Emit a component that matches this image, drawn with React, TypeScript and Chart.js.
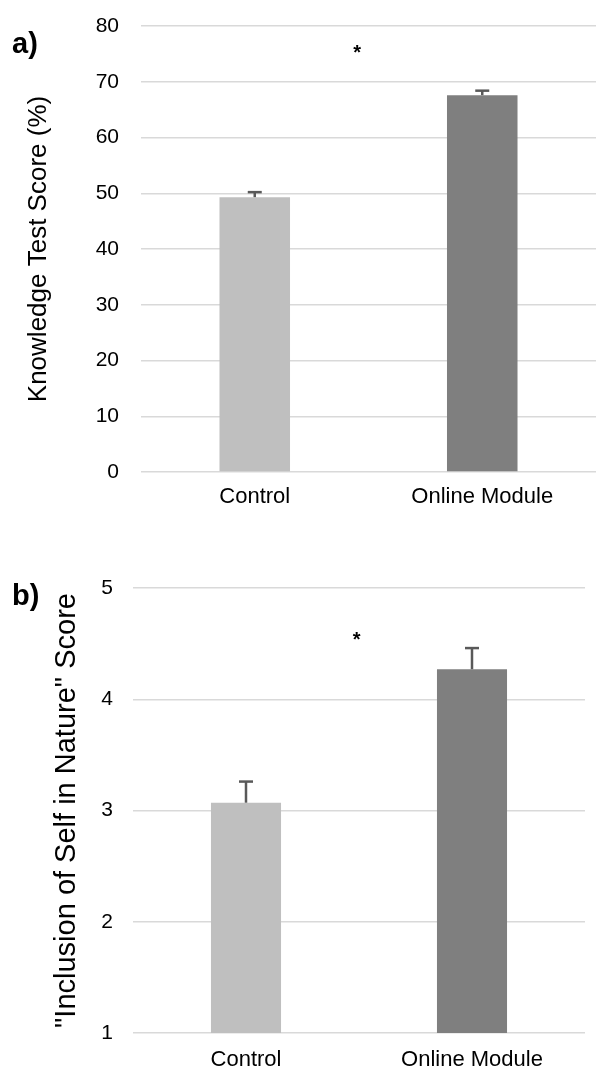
import React, { useEffect, useRef } from "react";
import { Chart, registerables } from "chart.js";

Chart.register(...registerables);

const categories = ["Control", "Online Module"];
const knowledgeScores = [49.3, 67.6];
const knowledgeErrors = [0.9, 0.8];
const natureScores = [3.07, 4.27];
const natureErrors = [0.19, 0.19];
const barColors = ["#bfbfbf", "#7f7f7f"];
const knowledgeAxis = { min: 0, max: 80, step: 10 };
const natureAxis = { min: 1, max: 5, step: 1 };
const knowledgeStar = { x: 0.45, y: 75.7 };
const natureStar = { x: 0.49, y: 4.56 };

const FONT = "'Liberation Sans', Arial, sans-serif";

const errorBarPlugin = {
  id: "errorBars",
  afterDatasetsDraw(chart: any) {
    const opts = chart.options.plugins.errorBars;
    if (!opts) return;
    const { ctx } = chart;
    const meta = chart.getDatasetMeta(0);
    const ys = chart.scales.y;
    ctx.save();
    ctx.strokeStyle = "#595959";
    opts.values.forEach((v: number, i: number) => {
      const x = meta.data[i].x;
      const yb = ys.getPixelForValue(v);
      const yt = ys.getPixelForValue(v + opts.errors[i]);
      ctx.lineWidth = 2.5;
      ctx.beginPath();
      ctx.moveTo(x, yb);
      ctx.lineTo(x, yt);
      ctx.stroke();
      ctx.beginPath();
      ctx.moveTo(x - 7, yt);
      ctx.lineTo(x + 7, yt);
      ctx.stroke();
    });
    const star = opts.star;
    ctx.fillStyle = "#000";
    ctx.font = `bold 20px ${FONT}`;
    ctx.textAlign = "center";
    ctx.textBaseline = "middle";
    ctx.fillText("*", chart.scales.x.getPixelForValue(star.x), ys.getPixelForValue(star.y) + 4);
    ctx.restore();
  },
};

function BarChart(props: any) {
  const ref = useRef<HTMLCanvasElement>(null);
  const { width, height, values, errors, axis, title, star, yWidth, xHeight, padding, tickPad, titlePad, xPad, titleSize } = props;
  useEffect(() => {
    const chart = new Chart(ref.current as HTMLCanvasElement, {
      type: "bar",
      data: {
        labels: categories,
        datasets: [
          {
            data: values,
            backgroundColor: barColors,
            barPercentage: 1,
            categoryPercentage: 0.31,
          },
        ],
      },
      options: {
        responsive: false,
        animation: false,
        devicePixelRatio: 1,
        layout: { padding },
        plugins: {
          legend: { display: false },
          tooltip: { enabled: false },
          errorBars: { values, errors, star },
        } as any,
        scales: {
          x: {
            grid: { display: false, drawTicks: false },
            border: { display: false },
            ticks: { color: "#000", font: { family: FONT, size: 22 }, padding: xPad },
            afterFit: (s: any) => {
              s.height = xHeight;
            },
          },
          y: {
            min: axis.min,
            max: axis.max,
            grid: { color: "#d9d9d9", lineWidth: 1.5, drawTicks: false },
            border: { display: false },
            ticks: { stepSize: axis.step, color: "#000", font: { family: FONT, size: 21 }, padding: tickPad },
            title: {
              display: true,
              text: title,
              color: "#000",
              font: { family: FONT, size: titleSize },
              padding: { top: titlePad, bottom: 0 },
            },
            afterFit: (s: any) => {
              s.width = yWidth;
            },
          },
        },
      },
      plugins: [errorBarPlugin],
    });
    return () => chart.destroy();
  }, []);
  return <canvas ref={ref} width={width} height={height} style={{ width, height, display: "block" }} />;
}

export default function App() {
  return (
    <div style={{ position: "absolute", left: 0, top: 0, width: 596, height: 1067, background: "#fff", overflow: "hidden", fontFamily: FONT }}>
      <div style={{ position: "absolute", left: 0, top: -12 }}>
        <BarChart
          width={596}
          height={552}
          values={knowledgeScores}
          errors={knowledgeErrors}
          axis={knowledgeAxis}
          title="Knowledge Test Score (%)"
          star={knowledgeStar}
          yWidth={141}
          xHeight={40}
          padding={{ top: 38, bottom: 28, left: 0, right: 0 }}
          tickPad={22}
          titlePad={23}
          xPad={12}
          titleSize={26}
        />
      </div>
      <div style={{ position: "absolute", left: 0, top: 545 }}>
        <BarChart
          width={596}
          height={522}
          values={natureScores}
          errors={natureErrors}
          axis={natureAxis}
          title={'"Inclusion of Self in Nature" Score'}
          star={natureStar}
          yWidth={133}
          xHeight={34}
          padding={{ top: 43, bottom: 0, left: 0, right: 11 }}
          tickPad={20}
          titlePad={50}
          xPad={14}
          titleSize={29}
        />
      </div>
      <div style={{ position: "absolute", left: 12, top: 27, fontSize: 29, fontWeight: "bold", color: "#000" }}>a)</div>
      <div style={{ position: "absolute", left: 12, top: 579, fontSize: 29, fontWeight: "bold", color: "#000" }}>b)</div>
    </div>
  );
}
